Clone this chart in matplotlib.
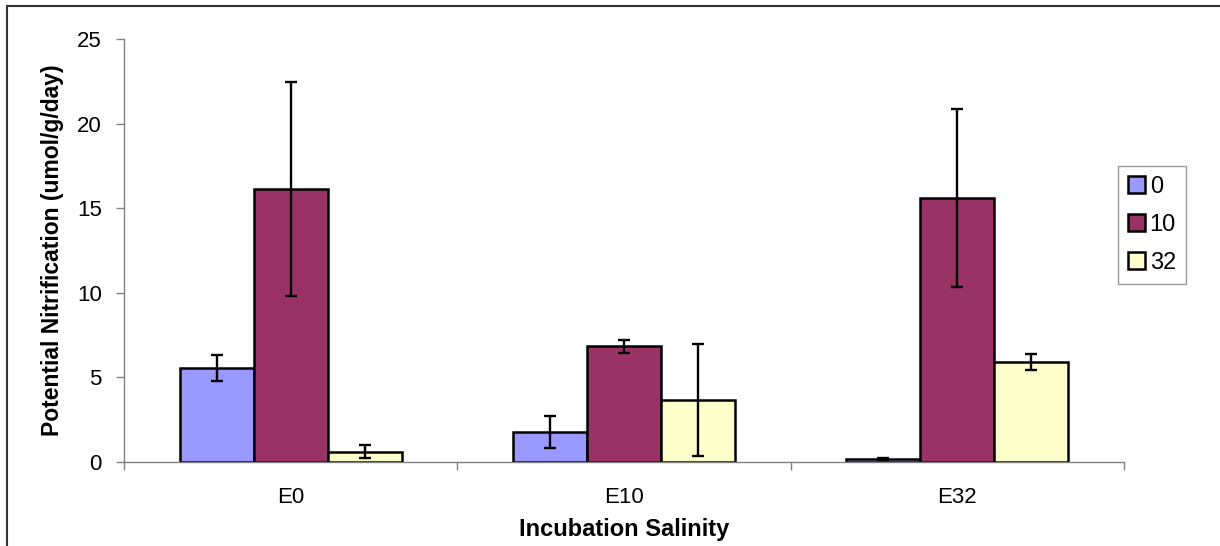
import matplotlib
matplotlib.use("Agg")
import matplotlib.pyplot as plt
from matplotlib.lines import Line2D
import numpy as np

plt.rcParams['font.family'] = ['Liberation Sans', 'DejaVu Sans']

categories = ["E0", "E10", "E32"]
series_names = ["0", "10", "32"]
values = {
    "0": [5.56, 1.77, 0.18],
    "10": [16.13, 6.83, 15.6],
    "32": [0.62, 3.66, 5.91],
}
errors = {
    "0": [0.76, 0.92, 0.08],
    "10": [6.3, 0.38, 5.26],
    "32": [0.36, 3.33, 0.5],
}
colors = {"0": "#9999FF", "10": "#993366", "32": "#FFFFCC"}
yticks = [0, 5, 10, 15, 20, 25]

fig = plt.figure(figsize=(12.2, 5.46), dpi=100)
ax = fig.add_axes([124/1220, 84/546, 1000/1220, 423/546])

x = np.arange(len(categories))
w = 1/4.5
for i, s in enumerate(series_names):
    pos = x + (i - 1) * w
    ax.bar(pos, values[s], width=w, color=colors[s], edgecolor='black',
           linewidth=1.8, label=s, zorder=2)
    ax.errorbar(pos, values[s], yerr=errors[s], fmt='none', ecolor='black',
                elinewidth=1.7, capsize=4, capthick=1.7, zorder=3)

ax.set_xlim(-0.5, len(categories) - 0.5)
ax.set_ylim(0, 25)
ax.set_yticks(yticks)
ax.set_yticklabels([str(t) for t in yticks], fontsize=16)
ax.set_xticks(x)
ax.set_xticklabels(categories, fontsize=16)
ax.set_xticks(np.arange(-0.5, len(categories), 1.0), minor=True)
ax.tick_params(axis='x', which='major', length=0, pad=18)
ax.tick_params(axis='x', which='minor', length=6, direction='out', color='#808080', width=1)
ax.tick_params(axis='y', which='major', length=6, direction='out', color='#808080', width=1, pad=10)

for side in ['top', 'right']:
    ax.spines[side].set_visible(False)
for side in ['left', 'bottom']:
    ax.spines[side].set_color('#808080')
    ax.spines[side].set_linewidth(1)

ax.set_xlabel("Incubation Salinity", fontsize=17, fontweight='bold', labelpad=7)
ax.set_ylabel("Potential Nitrification (umol/g/day)", fontsize=16.5, fontweight='bold', labelpad=9)

leg = ax.legend(loc='upper left', bbox_to_anchor=(1118/1220, (546-166)/546),
                bbox_transform=fig.transFigure, fontsize=17, frameon=True,
                fancybox=False, edgecolor='#808080', handlelength=0.72,
                handleheight=0.72, handletextpad=0.2, labelspacing=0.68,
                borderpad=0.42, borderaxespad=0)
leg.get_frame().set_linewidth(1)
for h in leg.legend_handles:
    h.set_linewidth(1.8)

fig.add_artist(Line2D([7/1220, 1.0], [1 - 6/546, 1 - 6/546], transform=fig.transFigure,
                      color='#333333', linewidth=1.5))
fig.add_artist(Line2D([7/1220, 7/1220], [0, 1 - 6/546], transform=fig.transFigure,
                      color='#333333', linewidth=1.5))

fig.savefig("out.png", dpi=100)
